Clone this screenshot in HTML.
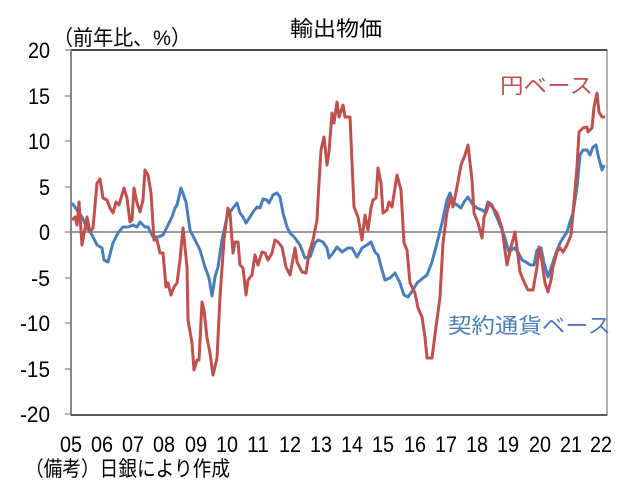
<!DOCTYPE html>
<html><head><meta charset="utf-8"><style>
body{margin:0;background:#fff;}
svg text{font-family:"Liberation Sans","Noto Sans CJK JP",sans-serif;}
</style></head><body>
<svg width="632" height="489" xmlns="http://www.w3.org/2000/svg">
<rect x="0" y="0" width="632" height="489" fill="#fff"/>
<rect x="71" y="50" width="536" height="365" fill="none" stroke="#999" stroke-width="1.5"/>
<line x1="71" y1="50" x2="607" y2="50" stroke="#222" stroke-width="1.5"/>
<line x1="71" y1="232" x2="607" y2="232" stroke="#999" stroke-width="2"/>
<g stroke="#999" stroke-width="1.5">
<line x1="65" y1="50" x2="71" y2="50"/><line x1="65" y1="96" x2="71" y2="96"/><line x1="65" y1="141" x2="71" y2="141"/><line x1="65" y1="187" x2="71" y2="187"/><line x1="65" y1="232" x2="71" y2="232"/><line x1="65" y1="278" x2="71" y2="278"/><line x1="65" y1="323" x2="71" y2="323"/><line x1="65" y1="369" x2="71" y2="369"/><line x1="65" y1="414" x2="71" y2="414"/>
</g>
<line x1="71" y1="50" x2="71" y2="415" stroke="#888" stroke-width="2"/>
<line x1="71" y1="415" x2="607" y2="415" stroke="#333" stroke-width="1.5"/>
<g font-size="22" text-anchor="end" fill="#000" lengthAdjust="spacingAndGlyphs">
<text x="50" y="58" textLength="22" lengthAdjust="spacingAndGlyphs">20</text>
<text x="50" y="104" textLength="22" lengthAdjust="spacingAndGlyphs">15</text>
<text x="50" y="149" textLength="22" lengthAdjust="spacingAndGlyphs">10</text>
<text x="50" y="195" textLength="11" lengthAdjust="spacingAndGlyphs">5</text>
<text x="50" y="240" textLength="11" lengthAdjust="spacingAndGlyphs">0</text>
<text x="50" y="286" textLength="19" lengthAdjust="spacingAndGlyphs">-5</text>
<text x="50" y="331" textLength="30" lengthAdjust="spacingAndGlyphs">-10</text>
<text x="50" y="377" textLength="30" lengthAdjust="spacingAndGlyphs">-15</text>
<text x="50" y="422" textLength="30" lengthAdjust="spacingAndGlyphs">-20</text>
</g>
<g font-size="22" text-anchor="middle" fill="#000">
<text x="71" y="452" textLength="22" lengthAdjust="spacingAndGlyphs">05</text>
<text x="102" y="452" textLength="22" lengthAdjust="spacingAndGlyphs">06</text>
<text x="133" y="452" textLength="22" lengthAdjust="spacingAndGlyphs">07</text>
<text x="164" y="452" textLength="22" lengthAdjust="spacingAndGlyphs">08</text>
<text x="196" y="452" textLength="22" lengthAdjust="spacingAndGlyphs">09</text>
<text x="227" y="452" textLength="22" lengthAdjust="spacingAndGlyphs">10</text>
<text x="258" y="452" textLength="22" lengthAdjust="spacingAndGlyphs">11</text>
<text x="290" y="452" textLength="22" lengthAdjust="spacingAndGlyphs">12</text>
<text x="321" y="452" textLength="22" lengthAdjust="spacingAndGlyphs">13</text>
<text x="352" y="452" textLength="22" lengthAdjust="spacingAndGlyphs">14</text>
<text x="383" y="452" textLength="22" lengthAdjust="spacingAndGlyphs">15</text>
<text x="415" y="452" textLength="22" lengthAdjust="spacingAndGlyphs">16</text>
<text x="446" y="452" textLength="22" lengthAdjust="spacingAndGlyphs">17</text>
<text x="477" y="452" textLength="22" lengthAdjust="spacingAndGlyphs">18</text>
<text x="508" y="452" textLength="22" lengthAdjust="spacingAndGlyphs">19</text>
<text x="540" y="452" textLength="22" lengthAdjust="spacingAndGlyphs">20</text>
<text x="571" y="452" textLength="22" lengthAdjust="spacingAndGlyphs">21</text>
<text x="601" y="452" textLength="22" lengthAdjust="spacingAndGlyphs">22</text>
</g>
<text x="290" y="36" font-size="21" textLength="92" lengthAdjust="spacingAndGlyphs">輸出物価</text>
<text x="53" y="45" font-size="21" textLength="138" lengthAdjust="spacingAndGlyphs">（前年比、%）</text>
<text x="25" y="476" font-size="21" textLength="205" lengthAdjust="spacingAndGlyphs">（備考）日銀により作成</text>
<text x="500" y="93" font-size="21" fill="#c0504d" textLength="93" lengthAdjust="spacingAndGlyphs">円ベース</text>
<text x="448" y="333" font-size="21" fill="#4a7ebb" textLength="163" lengthAdjust="spacingAndGlyphs">契約通貨ベース</text>
<polyline fill="none" stroke="#4a7ebb" stroke-width="3" stroke-linejoin="round" points="72,203 77,210 82,217 87,228 92,235 97,245 102,248 104,260 108,262 113,243 118,233 123,227 128,227 133,225 137,227 140,222 145,227 148,227 153,237 158,237 163,235 167,227 172,217 175,208 177,205 181,188 186,202 190,230 195,240 200,250 205,267 209,278 212,296 215,277 218,267 222,240 227,217 230,212 233,208 237,203 240,213 243,217 246,223 250,217 253,212 257,207 260,208 263,199 267,200 269,203 273,195 277,193 280,197 283,213 287,227 290,233 295,238 300,245 305,258 310,257 315,243 318,240 323,242 327,248 329,258 333,253 337,247 342,252 348,248 352,248 357,257 362,248 367,245 371,242 375,252 378,255 382,270 385,280 390,278 395,273 400,283 404,295 408,297 413,290 417,283 423,278 427,275 432,262 437,243 442,223 447,200 450,193 453,202 457,205 461,208 464,202 468,197 473,205 477,208 482,210 485,212 488,202 492,205 495,213 498,220 503,232 506,242 509,252 514,248 518,252 522,260 526,262 530,265 534,265 537,250 541,248 544,263 548,277 552,265 556,253 560,243 563,238 567,232 570,222 573,213 577,187 580,155 583,150 587,150 590,155 593,147 596,145 598,155 602,170 604,165"/>
<polyline fill="none" stroke="#c0504d" stroke-width="3" stroke-linejoin="round" points="72,220 75,217 77,225 79,202 82,245 87,217 90,232 93,228 97,183 100,179 103,198 107,200 110,208 113,213 116,202 119,205 124,188 127,198 130,222 132,220 134,188 137,203 140,212 143,200 145,170 148,175 151,193 154,240 157,240 160,253 163,253 166,287 168,283 171,295 174,287 177,283 180,260 183,228 187,267 188,320 192,343 194,370 197,360 199,360 202,302 204,310 207,338 210,353 213,375 217,358 220,297 224,240 228,208 230,213 233,253 235,242 238,242 240,265 243,268 246,295 248,280 252,275 255,255 258,265 262,252 265,253 268,260 272,253 275,240 278,242 282,247 286,267 290,275 295,248 297,262 302,272 306,273 309,253 313,240 317,220 318,200 321,150 324,137 327,165 329,152 332,113 334,123 337,102 339,117 343,105 345,117 350,117 354,207 358,217 362,240 365,215 368,230 371,208 373,200 376,198 378,168 381,183 383,213 387,210 389,202 392,207 397,175 401,190 404,243 407,250 410,283 415,293 418,308 422,317 425,337 427,358 432,358 436,327 440,297 443,243 447,212 451,197 453,207 457,187 461,165 465,155 468,145 472,180 474,213 478,223 482,238 484,217 487,210 489,203 493,208 497,213 502,228 504,243 507,265 511,247 515,232 517,248 520,272 524,282 528,290 533,290 537,267 539,247 542,262 545,283 548,292 551,280 553,267 557,252 560,248 563,252 567,245 571,235 573,213 577,167 579,132 583,128 587,127 588,132 592,128 594,107 597,93 599,112 602,117 605,117"/>
</svg>
</body></html>
